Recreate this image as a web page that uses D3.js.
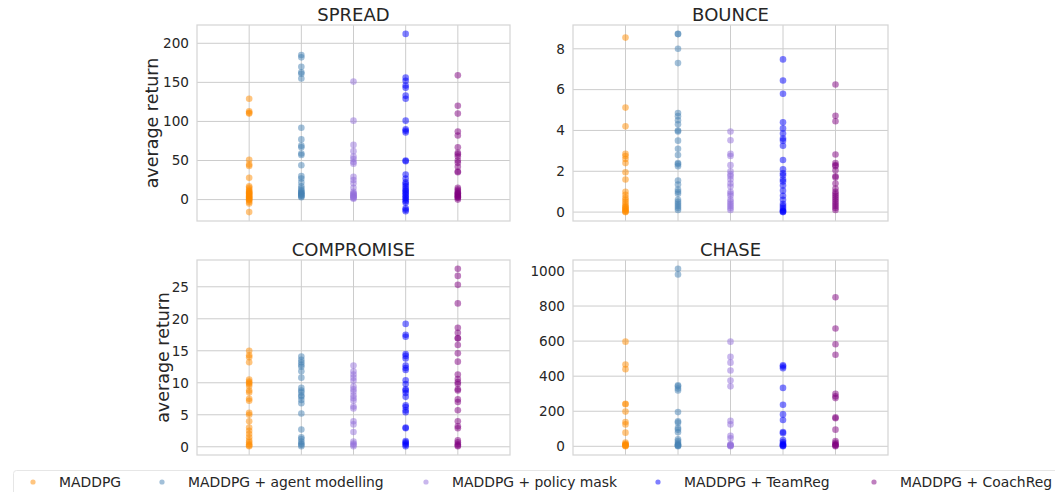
<!doctype html>
<html>
  <head>
    <meta charset="utf-8">
    <title>Average return per method</title>
    <script src="https://cdn.jsdelivr.net/npm/d3@7"></script>
    <style>
      body { margin: 0; background: #fff; }
      text { font-family: "DejaVu Sans", sans-serif; fill: #262626; }
    </style>
  </head>
  <body>
  <script>

  var width = 1055;
  var height = 492;

  // methods + colours
  var methods = ["MADDPG", "MADDPG + agent modelling", "MADDPG + policy mask", "MADDPG + TeamReg", "MADDPG + CoachReg"];
  var colors = ["#ff8c00", "#4682b4", "#9370db", "#0000ff", "#800080"];

  // one array of runs per method
  var spread = [
    [129, 113, 110, 111, 51, 45, 43, 28, 17, 15, 13, 11, 10, 9, 8, 7, 6, 5, 4, 3, 2, 1, 0, -1, -3, -5, -16],
    [185, 182, 170, 163, 161, 155, 92, 77, 69, 67, 59, 57, 44, 30, 27, 22, 17, 14, 12, 10, 9, 8, 7, 6, 5, 4, 3],
    [151, 101, 70, 62, 55, 52, 48, 46, 29, 25, 21, 15, 10, 8, 7, 6, 5, 4, 3, 2, 1],
    [212, 156, 152, 146, 143, 133, 129, 101, 90, 88, 86, 50, 49, 32, 27, 22, 20, 17, 14, 12, 10, 8, 6, 4, 2, 0, -2, -4, -11, -13, -15],
    [159, 120, 110, 87, 82, 67, 60, 58, 55, 50, 47, 42, 36, 35, 15, 13, 11, 9, 8, 7, 6, 5, 4, 3, 2, 0]
  ];
  var bounce = [
    [8.55, 5.12, 4.2, 2.85, 2.75, 2.6, 2.4, 1.95, 1.6, 1.0, 0.85, 0.7, 0.6, 0.5, 0.4, 0.3, 0.25, 0.2, 0.15, 0.1, 0.05, 0.02, 0],
    [8.73, 8.72, 8.0, 7.3, 4.85, 4.7, 4.5, 4.3, 4.0, 3.95, 3.5, 3.1, 2.8, 2.4, 2.35, 2.25, 1.55, 1.35, 1.1, 1.0, 0.9, 0.6, 0.5, 0.4, 0.3, 0.2, 0.1],
    [3.95, 3.52, 2.85, 2.75, 2.3, 2.0, 1.85, 1.75, 1.6, 1.4, 1.25, 1.0, 0.9, 0.8, 0.6, 0.5, 0.4, 0.3, 0.2, 0.1],
    [7.48, 6.45, 5.8, 4.4, 4.1, 3.85, 3.6, 3.5, 3.25, 2.55, 2.1, 1.9, 1.8, 1.6, 1.5, 1.3, 1.05, 0.8, 0.6, 0.4, 0.3, 0.2, 0.1, 0.05, 0.02, 0],
    [6.25, 4.72, 4.45, 2.82, 2.4, 2.3, 2.25, 2.05, 1.75, 1.7, 1.4, 1.15, 1.0, 0.9, 0.8, 0.7, 0.6, 0.5, 0.4, 0.3, 0.2, 0.1]
  ];
  var compromise = [
    [15.0, 14.3, 14.0, 13.2, 10.5, 10.2, 10.0, 9.8, 9.5, 8.8, 8.5, 7.5, 7.2, 5.3, 5.0, 4.0, 3.0, 2.5, 2.0, 1.5, 1.0, 0.7, 0.4, 0.2, 0.1],
    [14.1, 13.6, 13.2, 12.8, 12.5, 11.8, 10.8, 9.2, 8.8, 8.5, 8.0, 7.8, 7.3, 6.8, 5.2, 2.7, 1.5, 1.2, 0.8, 0.5, 0.3, 0.1],
    [12.7, 11.8, 11.3, 10.8, 10.3, 9.4, 9.0, 8.6, 8.0, 7.6, 7.2, 6.3, 6.0, 4.0, 3.5, 2.3, 0.8, 0.5, 0.3, 0.1],
    [19.2, 17.5, 17.2, 14.5, 14.2, 13.8, 12.7, 12.3, 12.0, 10.4, 9.8, 9.0, 8.8, 8.4, 7.8, 6.5, 6.2, 5.7, 5.4, 3.0, 2.9, 0.9, 0.7, 0.5, 0.3, 0.1],
    [27.8, 26.7, 25.3, 22.4, 18.6, 17.8, 17.0, 16.9, 15.9, 14.6, 13.3, 11.3, 10.6, 10.1, 9.8, 9.0, 8.8, 7.4, 7.0, 5.7, 4.0, 3.2, 2.9, 1.0, 0.7, 0.4, 0.2, 0.1]
  ];
  var chase = [
    [597, 467, 440, 243, 240, 198, 138, 125, 78, 22, 15, 10, 7, 5, 3, 1],
    [1012, 980, 348, 342, 330, 318, 195, 142, 135, 105, 95, 80, 40, 30, 20, 12, 8, 5, 3, 1],
    [597, 510, 477, 432, 375, 342, 145, 125, 60, 45, 12, 8, 5, 3, 1],
    [462, 455, 445, 333, 237, 182, 150, 82, 75, 35, 25, 15, 10, 6, 3, 1],
    [850, 672, 582, 522, 300, 285, 275, 165, 160, 95, 30, 20, 12, 8, 4, 1]
  ];

  var spreadTicks = [0, 50, 100, 150, 200];
  var bounceTicks = [0, 2, 4, 6, 8];
  var compromiseTicks = [0, 5, 10, 15, 20, 25];
  var chaseTicks = [0, 200, 400, 600, 800, 1000];

  var panels = [
    {title: "SPREAD", values: spread, ticks: spreadTicks, x0: 197, x1: 510, y0: 25, y1: 221, ylabel: true, labelX: 152},
    {title: "BOUNCE", values: bounce, ticks: bounceTicks, x0: 573, x1: 888, y0: 25, y1: 221, ylabel: false},
    {title: "COMPROMISE", values: compromise, ticks: compromiseTicks, x0: 197, x1: 510, y0: 260, y1: 455, ylabel: true, labelX: 163},
    {title: "CHASE", values: chase, ticks: chaseTicks, x0: 573, x1: 888, y0: 260, y1: 455, ylabel: false}
  ];

  var svg = d3.select('body').append('svg')
    .attr('width', width).attr('height', height);

  panels.forEach(function (p) {
    var all = d3.merge(p.values);
    var ext = d3.extent(all);
    var pad = (ext[1] - ext[0]) * 0.05;

    var x = d3.scaleLinear().domain([-1, 5]).range([p.x0, p.x1]);
    var y = d3.scaleLinear().domain([ext[0] - pad, ext[1] + pad]).range([p.y1, p.y0]);

    var g = svg.append('g');

    g.append('rect')
      .attr('x', p.x0).attr('y', p.y0)
      .attr('width', p.x1 - p.x0).attr('height', p.y1 - p.y0)
      .attr('fill', '#fff');

    // horizontal grid
    g.selectAll('.hgrid').data(p.ticks).enter().append('line')
      .attr('x1', p.x0).attr('x2', p.x1)
      .attr('y1', function (d) { return y(d); })
      .attr('y2', function (d) { return y(d); })
      .attr('stroke', '#cccccc').attr('stroke-width', 1);

    // vertical grid at each method
    g.selectAll('.vgrid').data(d3.range(methods.length)).enter().append('line')
      .attr('x1', function (d) { return x(d); })
      .attr('x2', function (d) { return x(d); })
      .attr('y1', p.y0).attr('y2', p.y1)
      .attr('stroke', '#cccccc').attr('stroke-width', 1);

    // tick labels via axis
    var axis = g.append('g')
      .attr('transform', 'translate(' + p.x0 + ',0)')
      .call(d3.axisLeft(y).tickValues(p.ticks).tickFormat(d3.format('d')).tickSize(0).tickPadding(8));
    axis.select('.domain').remove();
    axis.selectAll('text')
      .attr('font-size', '13.6px')
      .attr('font-family', '"DejaVu Sans", sans-serif')
      .attr('fill', '#262626');

    // points
    p.values.forEach(function (vals, i) {
      g.selectAll('.pt' + i).data(vals).enter().append('circle')
        .attr('cx', x(i))
        .attr('cy', function (d) { return y(d); })
        .attr('r', 3.3)
        .attr('fill', colors[i])
        .attr('fill-opacity', 0.5);
    });

    // frame
    g.append('rect')
      .attr('x', p.x0).attr('y', p.y0)
      .attr('width', p.x1 - p.x0).attr('height', p.y1 - p.y0)
      .attr('fill', 'none')
      .attr('stroke', '#d6d6d6').attr('stroke-width', 1.25);

    g.append('text')
      .attr('x', (p.x0 + p.x1) / 2).attr('y', p.y0 - 4)
      .attr('text-anchor', 'middle')
      .attr('font-size', '18px')
      .text(p.title);

    if (p.ylabel) {
      g.append('text')
        .attr('transform', 'translate(' + p.labelX + ',' + ((p.y0 + p.y1) / 2) + ') rotate(-90)')
        .attr('text-anchor', 'middle')
        .attr('dy', '0.35em')
        .attr('font-size', '17.5px')
        .text('average return');
    }
  });

  // legend
  var legendX = [33, 162, 426, 658, 874];
  var legend = svg.append('g');
  legend.append('rect')
    .attr('x', 13.5).attr('y', 470.5)
    .attr('width', 1060).attr('height', 40)
    .attr('rx', 3)
    .attr('fill', '#fff').attr('fill-opacity', 0.8)
    .attr('stroke', '#e6e6e6');

  var items = legend.selectAll('.item').data(methods).enter().append('g')
    .attr('transform', function (d, i) { return 'translate(' + legendX[i] + ',482)'; });
  items.append('circle')
    .attr('r', 2.6)
    .attr('fill', function (d, i) { return colors[i]; })
    .attr('fill-opacity', 0.5);
  items.append('text')
    .attr('x', 26).attr('dy', '0.35em')
    .attr('font-size', '13.9px')
    .text(function (d) { return d; });

  </script>
  </body>
</html>
